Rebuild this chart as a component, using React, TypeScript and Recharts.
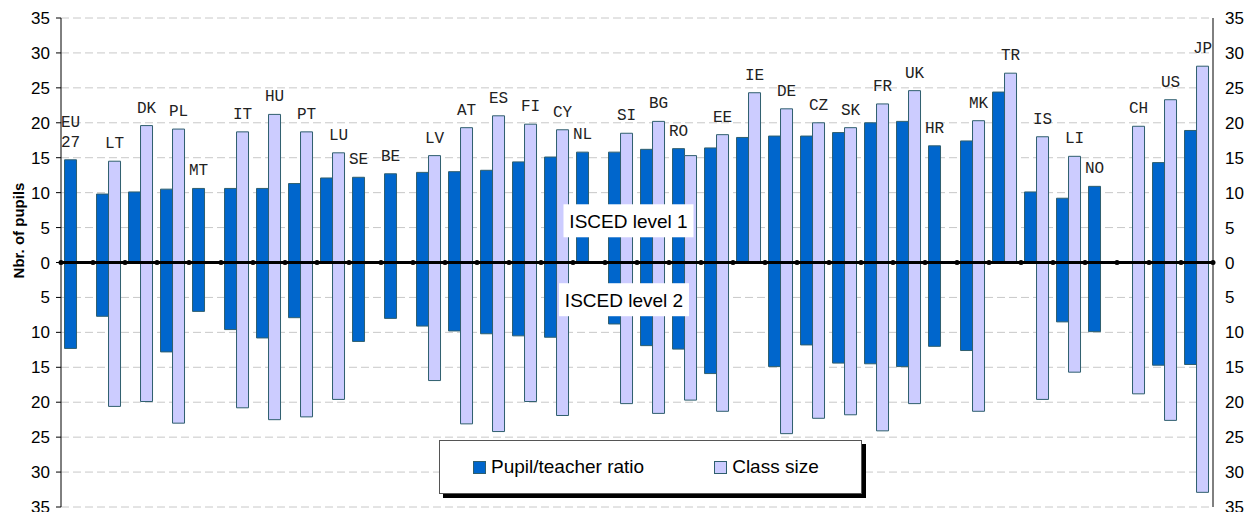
import { ComposedChart, Bar, Line, XAxis, YAxis, CartesianGrid, ReferenceLine, ReferenceDot, LabelList, Legend } from 'recharts';

document.body.style.margin = '0';

// country codes, left to right
const codes = ['EU 27', 'LT', 'DK', 'PL', 'MT', 'IT', 'HU', 'PT', 'LU', 'SE', 'BE', 'LV', 'AT', 'ES', 'FI', 'CY', 'NL', 'SI', 'BG', 'RO', 'EE', 'IE', 'DE', 'CZ', 'SK', 'FR', 'UK', 'HR', 'MK', 'TR', 'IS', 'LI', 'NO', 'CH', 'US', 'JP'];

// ISCED level 1 (drawn upwards)
const ptLevel1 = [14.7, 9.8, 10.1, 10.5, 10.6, 10.6, 10.6, 11.3, 12.1, 12.2, 12.7, 12.9, 13.0, 13.2, 14.4, 15.1, 15.8, 15.8, 16.2, 16.3, 16.4, 17.9, 18.1, 18.1, 18.6, 20.0, 20.2, 16.7, 17.4, 24.4, 10.1, 9.2, 10.9, null, 14.3, 18.9];
const csLevel1 = [null, 14.5, 19.6, 19.1, null, 18.7, 21.2, 18.7, 15.7, null, null, 15.3, 19.3, 21.0, 19.8, 19.0, null, 18.5, 20.2, 15.3, 18.3, 24.3, 22.0, 20.0, 19.3, 22.7, 24.6, null, 20.3, 27.1, 18.0, 15.2, null, 19.5, 23.3, 28.1];

// ISCED level 2 (drawn downwards)
const ptLevel2 = [12.3, 7.7, null, 12.8, 7.0, 9.6, 10.8, 7.9, null, 11.3, 8.0, 9.1, 9.8, 10.2, 10.5, 10.7, null, 8.8, 11.9, 12.4, 15.9, null, 14.9, 11.8, 14.4, 14.5, 14.9, 12.0, 12.6, null, null, 8.5, 9.9, null, 14.7, 14.6];
const csLevel2 = [null, 20.6, 19.9, 23.0, null, 20.8, 22.5, 22.1, 19.6, null, null, 16.9, 23.1, 24.2, 19.9, 21.9, null, 20.2, 21.6, 19.7, 21.3, null, 24.5, 22.3, 21.8, 24.1, 20.2, null, 21.3, null, 19.6, 15.7, null, 18.8, 22.6, 32.9];

const yTicks = [-35, -30, -25, -20, -15, -10, -5, 0, 5, 10, 15, 20, 25, 30, 35];

const DARK = '#0066cc';
const LIGHT = '#ccccff';
const EDGE = '#2f5f6e';
const SANS = '"Liberation Sans", Arial, sans-serif';
const MONO = '"Liberation Mono", "Courier New", monospace';

const CHART_W = 1255;
const LEFT_AXIS_W = 61;
const RIGHT_AXIS_W = 42;
const HALF_BAND = (CHART_W - LEFT_AXIS_W - RIGHT_AXIS_W) / codes.length / 2;

const data = codes.map((code, i) => ({
  code,
  pt1: ptLevel1[i],
  cs1: csLevel1[i],
  pt2: ptLevel2[i] == null ? null : -(ptLevel2[i] as number),
  cs2: csLevel2[i] == null ? null : -(csLevel2[i] as number),
}));

// country code above the tallest level-1 bar
const codeLabel = (series: 'pt1' | 'cs1') => (props: any) => {
  const { x, y, width, height, value } = props;
  const row = data.find((d) => d.code === value);
  if (!row) return null;
  const mine = row[series];
  const other = series === 'pt1' ? row.cs1 : row.pt1;
  if (mine == null) return null;
  if (series === 'pt1' && other != null && other > mine) return null;
  if (series === 'cs1' && other != null && other >= mine) return null;
  const top = Math.min(y, y + height);
  const cx = x + width / 2;
  const lines = row.code.split(' ');
  const first = top - 17 - (lines.length - 1) * 20;
  return (
    <text x={cx} y={first} textAnchor="middle" dominantBaseline="central" fontFamily={MONO} fontSize={16} fill="#222">
      {lines.map((l, k) => (
        <tspan key={k} x={cx} dy={k === 0 ? 0 : 20}>{l}</tspan>
      ))}
    </text>
  );
};

// small dots on the zero line at the category boundaries
const boundaryDots = (last: boolean) => (props: any) => (
  <g>
    <circle cx={props.cx - HALF_BAND} cy={props.cy} r={2.5} fill="#000" />
    {last && <circle cx={props.cx + HALF_BAND} cy={props.cy} r={2.5} fill="#000" />}
  </g>
);

const levelTag = (text: string, dx: number) => (props: any) => (
  <g>
    <rect x={props.cx + dx - 65} y={props.cy - 17} width={130} height={33} fill="#fff" />
    <text x={props.cx + dx} y={props.cy} textAnchor="middle" dominantBaseline="central" fontFamily={SANS} fontSize={19} fill="#000">
      {text}
    </text>
  </g>
);

const legendContent = () => (
  <div style={{
    width: 421, height: 52, border: '1px solid #555', background: '#fff', boxShadow: '4px 4px 0 #000',
    display: 'flex', alignItems: 'center', fontFamily: SANS, fontSize: 19, color: '#000', boxSizing: 'content-box',
  }}>
    <span style={{ width: 13, height: 13, background: DARK, border: `1px solid ${EDGE}`, marginLeft: 33, marginRight: 5, boxSizing: 'border-box' }} />
    <span>Pupil/teacher ratio</span>
    <span style={{ width: 13, height: 13, background: LIGHT, border: `1px solid ${EDGE}`, marginLeft: 70, marginRight: 5, boxSizing: 'border-box' }} />
    <span>Class size</span>
  </div>
);

const absTick = (v: number) => String(Math.abs(v));

export default function App() {
  return (
    <ComposedChart
      width={CHART_W}
      height={512}
      data={data}
      stackOffset="sign"
      barGap={0}
      barCategoryGap="11%"
      margin={{ top: 18, right: 0, bottom: 5, left: 0 }}
    >
      <CartesianGrid vertical={false} stroke="#c8c8c8" strokeDasharray="8 4" />
      <XAxis dataKey="code" hide />
      <YAxis
        domain={[-35, 35]}
        ticks={yTicks}
        interval={0}
        tickFormatter={absTick}
        width={LEFT_AXIS_W}
        axisLine={{ stroke: '#000' }}
        tickLine={{ stroke: '#000' }}
        tickSize={5}
        tickMargin={6}
        tick={{ fontSize: 17, fill: '#000', fontFamily: SANS }}
        label={{
          content: (p: any) => {
            const vb = p.viewBox;
            const cx = vb.x + 18;
            const cy = vb.y + vb.height / 2 - 32;
            return (
              <text x={cx} y={cy} transform={`rotate(-90 ${cx} ${cy})`} textAnchor="middle" dominantBaseline="central"
                fontFamily={SANS} fontWeight="bold" fontSize={15} fill="#000">
                Nbr. of pupils
              </text>
            );
          },
        }}
      />
      <YAxis
        yAxisId="right"
        orientation="right"
        domain={[-35, 35]}
        ticks={yTicks}
        interval={0}
        tickFormatter={absTick}
        width={RIGHT_AXIS_W}
        axisLine={{ stroke: '#000' }}
        tickLine={false}
        tickSize={0}
        tickMargin={12}
        tick={{ fontSize: 17, fill: '#000', fontFamily: SANS }}
      />
      <Legend verticalAlign="middle" align="center" layout="horizontal" content={legendContent}
        wrapperStyle={{ left: 439, top: 440, width: 425, height: 56 }} />
      <Bar dataKey="pt1" stackId="pt" fill={DARK} stroke={EDGE} strokeWidth={1} isAnimationActive={false}>
        <LabelList dataKey="code" content={codeLabel('pt1')} />
      </Bar>
      <Bar dataKey="pt2" stackId="pt" fill={DARK} stroke={EDGE} strokeWidth={1} isAnimationActive={false} />
      <Bar dataKey="cs1" stackId="cs" fill={LIGHT} stroke={EDGE} strokeWidth={1} isAnimationActive={false}>
        <LabelList dataKey="code" content={codeLabel('cs1')} />
      </Bar>
      <Bar dataKey="cs2" stackId="cs" fill={LIGHT} stroke={EDGE} strokeWidth={1} isAnimationActive={false} />
      {/* invisible series so the right-hand axis gets its ticks */}
      <Line yAxisId="right" dataKey="cs1" stroke="none" dot={false} activeDot={false} legendType="none" isAnimationActive={false} />
      <ReferenceLine y={0} stroke="#000" strokeWidth={3} />
      {codes.map((c, i) => (
        <ReferenceDot key={c} x={c} y={0} r={0} shape={boundaryDots(i === codes.length - 1)} />
      ))}
      <ReferenceDot x="SI" y={5.9} r={0} shape={levelTag('ISCED level 1', 7.5)} />
      <ReferenceDot x="SI" y={-5.4} r={0} shape={levelTag('ISCED level 2', 3)} />
    </ComposedChart>
  );
}
